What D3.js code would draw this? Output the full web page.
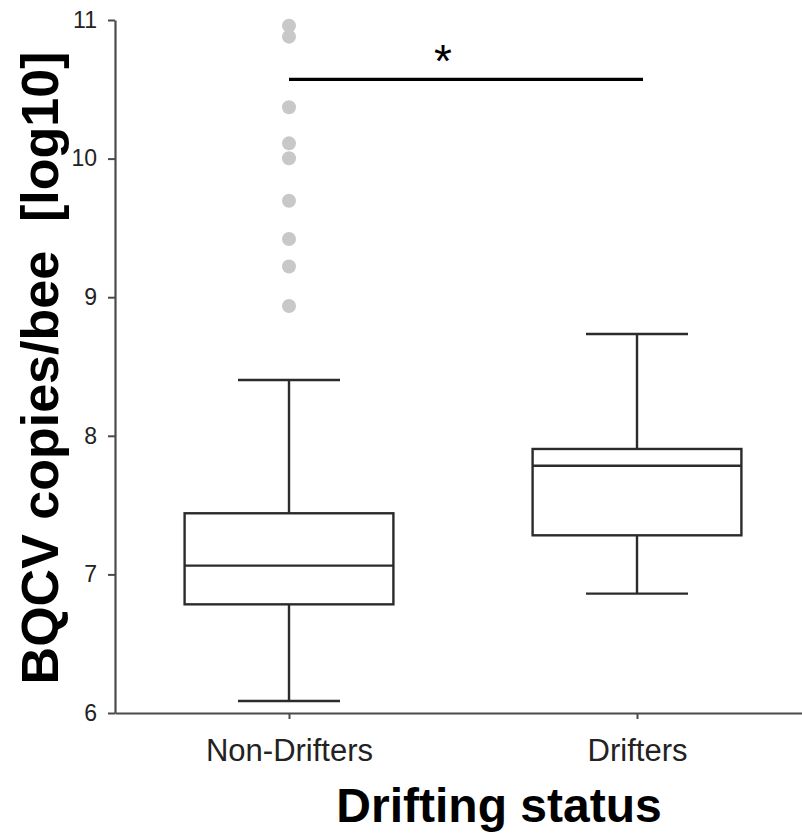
<!DOCTYPE html>
<html>
<head>
<meta charset="utf-8">
<script src="https://cdn.jsdelivr.net/npm/d3@7"></script>
<style>
  body { margin: 0; background: #fff; }
</style>
</head>
<body>
<div id="chart"></div>
<script>
// data
var groups = ["Non-Drifters", "Drifters"];
var whiskLow = [6.087, 6.861];
var q1 = [6.784, 7.282];
var medians = [7.063, 7.784];
var q3 = [7.441, 7.905];
var whiskHigh = [8.403, 8.734];
var outliers = [10.959, 10.880, 10.370, 10.110, 10.002, 9.696, 9.420, 9.221, 8.937];
var yTicks = [6, 7, 8, 9, 10, 11];
var sigLevel = 10.572;
var sigLabel = "*";

var width = 802;
var height = 840;
var font = "Liberation Sans, Arial, sans-serif";
var color_box = "#2b2b2b";
var color_axis = "#4a4a4a";
var color_outlier = "#c8c8c8";

var svg = d3.select("#chart")
  .append("svg")
  .attr("width", width)
  .attr("height", height);

var y_scale = d3.scaleLinear()
  .domain([6, 11])
  .range([713, 20]);

var x_scale = d3.scalePoint()
  .domain(groups)
  .range([115, 811])
  .padding(0.5);

var boxWidth = x_scale.step() * 0.6;
var capWidth = 102;

// axes
var y_axis = d3.axisLeft(y_scale)
  .tickValues(yTicks)
  .tickFormat(d3.format("d"))
  .tickSize(7)
  .tickPadding(11)
  .tickSizeOuter(0);

var yg = svg.append("g")
  .attr("transform", "translate(115,0)")
  .call(y_axis);
yg.attr("font-size", 23).attr("font-family", font);
yg.select(".domain").attr("stroke", color_axis).attr("stroke-width", 2.2);
yg.selectAll(".tick line").attr("stroke", color_axis).attr("stroke-width", 2);
yg.selectAll(".tick text")
  .attr("fill", "#222")
  .style("font-size", "23px");

var x_axis = d3.axisBottom(x_scale)
  .tickSize(6)
  .tickPadding(20)
  .tickSizeOuter(0);

var xg = svg.append("g")
  .attr("transform", "translate(0,713)")
  .call(x_axis);
xg.select(".domain").attr("stroke", color_axis).attr("stroke-width", 2.2);
xg.selectAll(".tick line").attr("stroke", color_axis).attr("stroke-width", 2);
xg.selectAll(".tick text")
  .attr("fill", "#222")
  .style("font-family", font)
  .style("font-size", "31px");

// boxes
groups.forEach(function(g, i) {
  var cx = x_scale(g);
  var b = svg.append("g")
    .attr("stroke", color_box)
    .attr("stroke-width", 2.4)
    .attr("fill", "none");

  // whiskers
  b.append("line")
    .attr("x1", cx).attr("x2", cx)
    .attr("y1", y_scale(whiskHigh[i])).attr("y2", y_scale(q3[i]));
  b.append("line")
    .attr("x1", cx).attr("x2", cx)
    .attr("y1", y_scale(q1[i])).attr("y2", y_scale(whiskLow[i]));
  b.append("line")
    .attr("x1", cx - capWidth / 2).attr("x2", cx + capWidth / 2)
    .attr("y1", y_scale(whiskHigh[i])).attr("y2", y_scale(whiskHigh[i]));
  b.append("line")
    .attr("x1", cx - capWidth / 2).attr("x2", cx + capWidth / 2)
    .attr("y1", y_scale(whiskLow[i])).attr("y2", y_scale(whiskLow[i]));

  // box
  b.append("rect")
    .attr("x", cx - boxWidth / 2)
    .attr("y", y_scale(q3[i]))
    .attr("width", boxWidth)
    .attr("height", y_scale(q1[i]) - y_scale(q3[i]))
    .attr("fill", "#fff");
  b.append("line")
    .attr("x1", cx - boxWidth / 2).attr("x2", cx + boxWidth / 2)
    .attr("y1", y_scale(medians[i])).attr("y2", y_scale(medians[i]));
});

// outliers (non-drifters only)
svg.selectAll("circle.outlier")
  .data(outliers)
  .enter()
  .append("circle")
  .attr("class", "outlier")
  .attr("cx", x_scale(groups[0]))
  .attr("cy", function(d) { return y_scale(d); })
  .attr("r", 7)
  .attr("fill", color_outlier);

// significance bar
svg.append("line")
  .attr("x1", x_scale(groups[0]))
  .attr("x2", x_scale(groups[1]) + 6)
  .attr("y1", y_scale(sigLevel))
  .attr("y2", y_scale(sigLevel))
  .attr("stroke", "#000")
  .attr("stroke-width", 3.2);

svg.append("text")
  .attr("x", (x_scale(groups[0]) + x_scale(groups[1])) / 2 - 20)
  .attr("y", y_scale(sigLevel) - 2)
  .attr("text-anchor", "middle")
  .style("font-family", font)
  .style("font-size", "46px")
  .attr("fill", "#000")
  .text(sigLabel);

// axis titles
svg.append("text")
  .attr("x", 499)
  .attr("y", 822)
  .attr("text-anchor", "middle")
  .style("font-family", font)
  .style("font-size", "48px")
  .style("font-weight", "bold")
  .attr("fill", "#000")
  .text("Drifting status");

svg.append("text")
  .attr("transform", "translate(58,368) rotate(-90)")
  .attr("text-anchor", "middle")
  .style("font-family", font)
  .style("font-size", "52px")
  .style("font-weight", "bold")
  .style("white-space", "pre")
  .attr("fill", "#000")
  .text("BQCV copies/bee  [log10]");
</script>
</body>
</html>
